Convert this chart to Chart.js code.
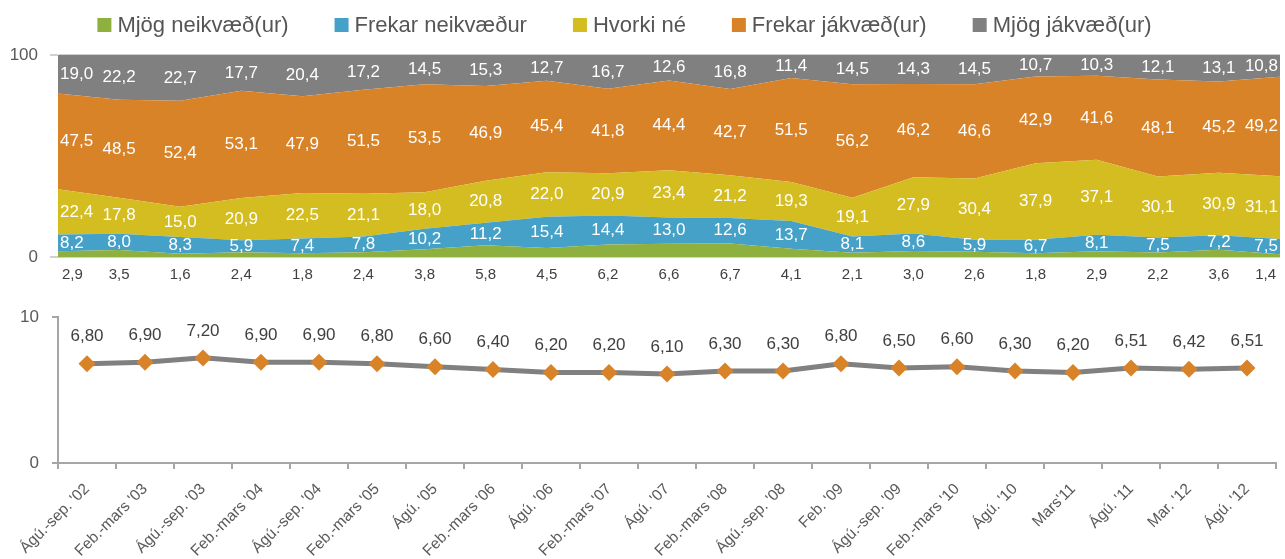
<!DOCTYPE html>
<html><head><meta charset="utf-8">
<script src="https://cdn.jsdelivr.net/npm/chart.js@4"></script>
<style>
html,body{margin:0;padding:0;background:#fff;}
#wrap{position:relative;width:1285px;height:559px;overflow:hidden;background:#fff;}
#c1{position:absolute;left:0;top:0;}
#c2{position:absolute;left:0;top:290px;}
</style></head><body>
<div id="wrap">
<canvas id="c1" width="1285" height="290"></canvas>
<canvas id="c2" width="1285" height="269"></canvas>
</div>
<script>
const categories = ["Ágú.-sep. '02","Feb.-mars '03","Ágú.-sep. '03","Feb.-mars '04","Ágú.-sep. '04","Feb.-mars '05","Ágú. '05","Feb.-mars '06","Ágú. '06","Feb.-mars '07","Ágú. '07","Feb.-mars '08","Ágú.-sep. '08","Feb. '09","Ágú.-sep. '09","Feb.-mars '10","Ágú. '10","Mars'11","Ágú. '11","Mar. '12","Ágú. '12"];
const seriesNames = ["Mjög neikvæð(ur)","Frekar neikvæður","Hvorki né","Frekar jákvæð(ur)","Mjög jákvæð(ur)"];
const mjogNeikvaed = [2.9,3.5,1.6,2.4,1.8,2.4,3.8,5.8,4.5,6.2,6.6,6.7,4.1,2.1,3.0,2.6,1.8,2.9,2.2,3.6,1.4];
const frekarNeikvaed = [8.2,8.0,8.3,5.9,7.4,7.8,10.2,11.2,15.4,14.4,13.0,12.6,13.7,8.1,8.6,5.9,6.7,8.1,7.5,7.2,7.5];
const hvorkiNe = [22.4,17.8,15.0,20.9,22.5,21.1,18.0,20.8,22.0,20.9,23.4,21.2,19.3,19.1,27.9,30.4,37.9,37.1,30.1,30.9,31.1];
const frekarJakvaed = [47.5,48.5,52.4,53.1,47.9,51.5,53.5,46.9,45.4,41.8,44.4,42.7,51.5,56.2,46.2,46.6,42.9,41.6,48.1,45.2,49.2];
const mjogJakvaed = [19.0,22.2,22.7,17.7,20.4,17.2,14.5,15.3,12.7,16.7,12.6,16.8,11.4,14.5,14.3,14.5,10.7,10.3,12.1,13.1,10.8];
const meanScore = [6.80,6.90,7.20,6.90,6.90,6.80,6.60,6.40,6.20,6.20,6.10,6.30,6.30,6.80,6.50,6.60,6.30,6.20,6.51,6.42,6.51];
const topTicks = [0,100];
const bottomTicks = [0,10];

const FONT = '"Liberation Sans", Arial, sans-serif';
const colors = ['#8DB03F','#45A1C7','#D4BD20','#D98329','#808080'];
const series = [mjogNeikvaed, frekarNeikvaed, hvorkiNe, frekarJakvaed, mjogJakvaed];
const fmt = (v,d) => v.toFixed(d).replace('.', ',');

const legendPlugin = {
  id:'refLegend',
  afterDraw(chart){
    const ctx = chart.ctx; ctx.save();
    ctx.font = '22px ' + FONT;
    const items = chart.data.datasets.map(d => ({text:d.label, color:d.backgroundColor, w:ctx.measureText(d.label).width}));
    const box = 14, g1 = 6, g2 = 46;
    const total = items.reduce((a,it)=>a+box+g1+it.w,0) + g2*(items.length-1);
    let x = 624.5 - total/2; const yc = 25;
    ctx.textBaseline = 'middle'; ctx.textAlign = 'left';
    items.forEach(it => {
      ctx.fillStyle = it.color; ctx.fillRect(x, yc-7, box, box);
      ctx.fillStyle = '#555555'; ctx.fillText(it.text, x+box+g1, yc+1);
      x += box + g1 + it.w + g2;
    });
    ctx.restore();
  }
};

const areaLabels = {
  id:'areaLabels',
  afterDatasetsDraw(chart){
    const ctx = chart.ctx, area = chart.chartArea;
    ctx.save(); ctx.textAlign = 'center'; ctx.textBaseline = 'middle';
    chart.data.datasets.forEach((ds,i) => {
      const meta = chart.getDatasetMeta(i);
      meta.data.forEach((pt,j) => {
        const txt = fmt(ds.data[j],1);
        if (i === 0) {
          ctx.font = '15px ' + FONT;
          const w = ctx.measureText(txt).width;
          const x = Math.min(Math.max(pt.x, area.left+w/2+4), area.right-w/2-4);
          ctx.fillStyle = '#404040'; ctx.fillText(txt, x, area.bottom+18);
        } else {
          ctx.font = '17px ' + FONT;
          const w = ctx.measureText(txt).width;
          const x = Math.min(Math.max(pt.x, area.left+w/2+2), area.right-w/2-2);
          const yb = chart.getDatasetMeta(i-1).data[j].y;
          ctx.fillStyle = '#ffffff'; ctx.fillText(txt, x, (pt.y+yb)/2);
        }
      });
    });
    ctx.restore();
  }
};

new Chart(document.getElementById('c1'), {
  type:'line',
  data:{
    labels:categories,
    datasets: series.map((s,i) => ({
      label:seriesNames[i], data:s, backgroundColor:colors[i], borderColor:colors[i],
      borderWidth:0, fill: i===0 ? 'origin' : '-1', pointRadius:0, tension:0
    }))
  },
  options:{
    responsive:false, animation:false,
    layout:{padding:{top:55,bottom:33,left:0,right:5}},
    plugins:{legend:{display:false}, tooltip:{enabled:false}},
    scales:{
      x:{display:false, offset:false},
      y:{
        stacked:true, min:0, max:100,
        afterBuildTicks: s => { s.ticks = topTicks.map(v => ({value:v})); },
        afterFit: s => { s.width = 58; },
        ticks:{padding:12, color:'#595959', font:{size:17, family:FONT}},
        grid:{color:'#d0d0d0', lineWidth:2, tickLength:8, drawOnChartArea:true},
        border:{color:'#c0c0c0', width:1}
      }
    }
  },
  plugins:[legendPlugin, areaLabels]
});

const pointLabels = {
  id:'pointLabels',
  afterDatasetsDraw(chart){
    const ctx = chart.ctx;
    ctx.save(); ctx.textAlign='center'; ctx.textBaseline='middle';
    ctx.font = '17px ' + FONT; ctx.fillStyle = '#404040';
    const ds = chart.data.datasets[0];
    chart.getDatasetMeta(0).data.forEach((pt,j) => {
      ctx.fillText(fmt(ds.data[j],2), pt.x, pt.y-27);
    });
    ctx.restore();
  }
};

new Chart(document.getElementById('c2'), {
  type:'line',
  data:{
    labels:categories,
    datasets:[{
      label:'Meðaltal', data:meanScore, borderColor:'#808080', borderWidth:5,
      pointStyle:'rectRot', pointRadius:8.5, pointBackgroundColor:'#D98329', pointBorderWidth:0,
      tension:0, fill:false
    }]
  },
  options:{
    responsive:false, animation:false,
    layout:{padding:{top:27,bottom:0,left:0,right:9}},
    plugins:{legend:{display:false}, tooltip:{enabled:false}},
    scales:{
      x:{
        offset:true,
        afterFit: s => { s.height = 96; },
        ticks:{autoSkip:false, maxRotation:45, minRotation:45, padding:11, color:'#595959', font:{size:15.5, family:FONT}},
        grid:{offset:true, drawOnChartArea:false, tickLength:6, color:'#a6a6a6', lineWidth:2},
        border:{color:'#a6a6a6', width:2}
      },
      y:{
        min:0, max:10,
        afterBuildTicks: s => { s.ticks = bottomTicks.map(v => ({value:v})); },
        afterFit: s => { s.width = 58; },
        ticks:{padding:13, color:'#595959', font:{size:17, family:FONT}},
        grid:{drawOnChartArea:false, tickLength:6, color:'#a6a6a6', lineWidth:2},
        border:{color:'#a6a6a6', width:2}
      }
    }
  },
  plugins:[pointLabels]
});
</script>
</body></html>
